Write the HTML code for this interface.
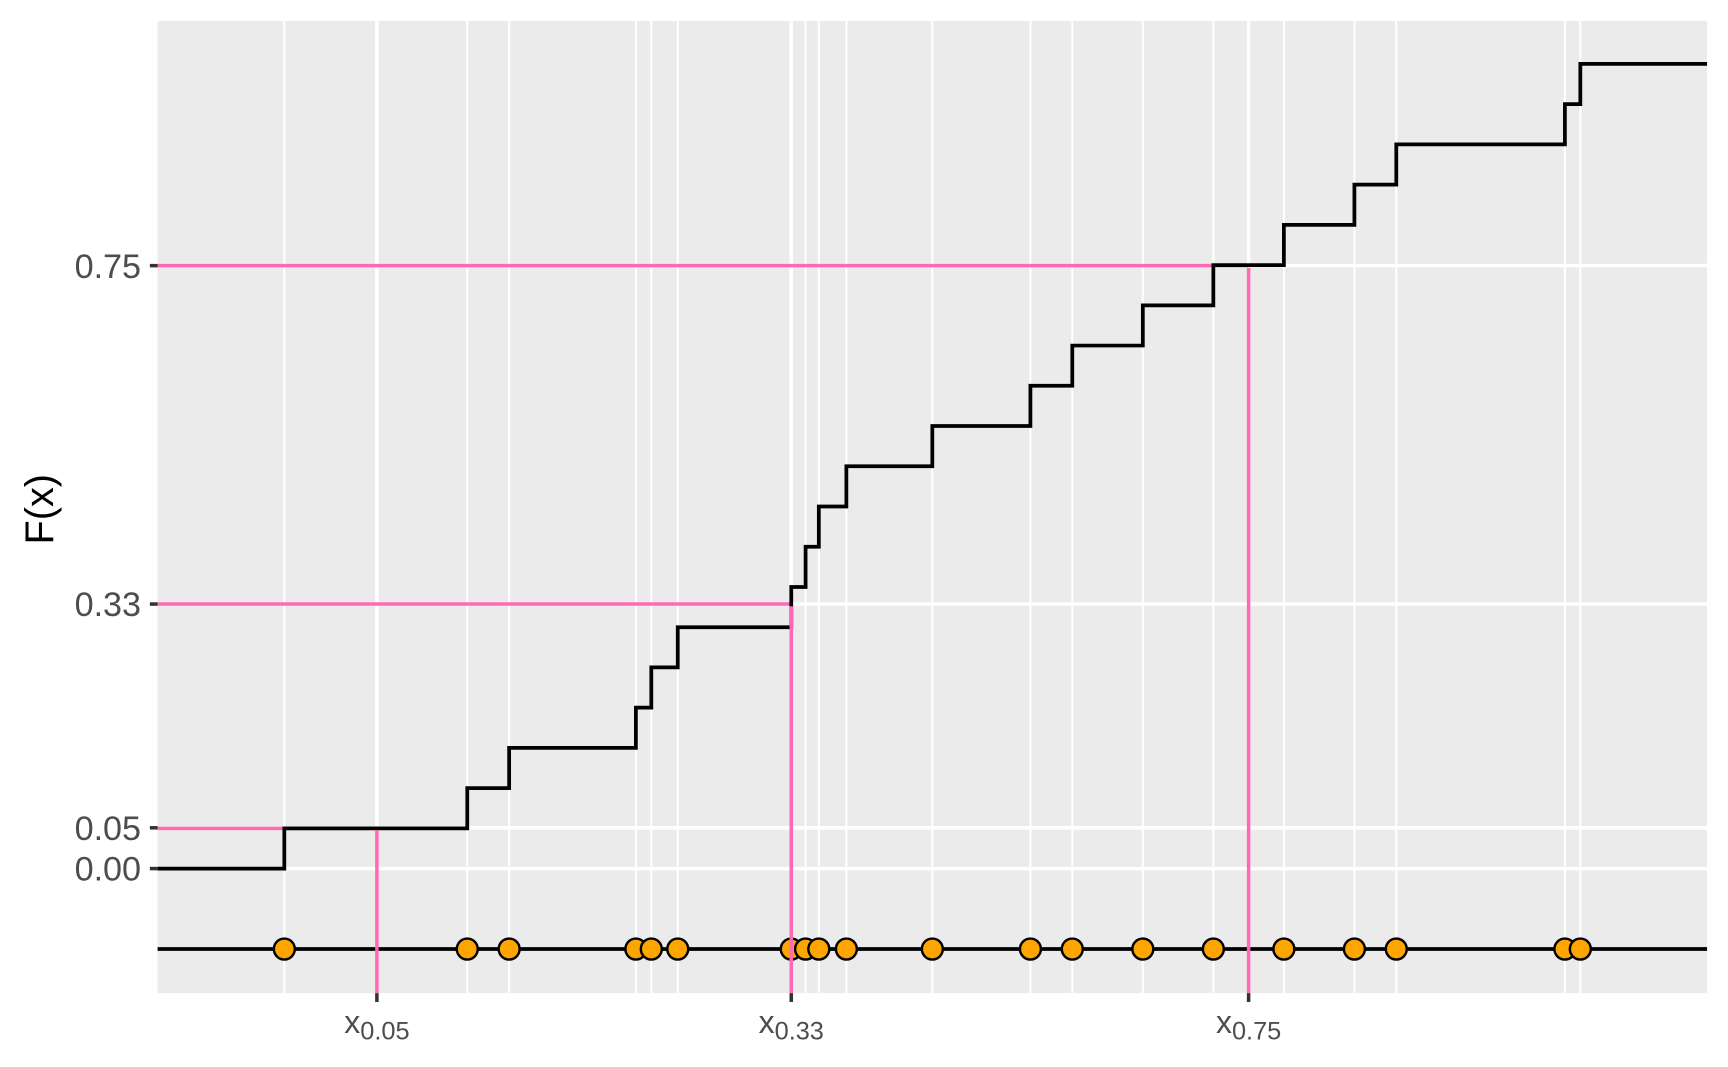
<!DOCTYPE html>
<html><head><meta charset="utf-8"><style>html,body{margin:0;padding:0;background:#fff;}svg{display:block}</style></head>
<body>
<svg width="1728" height="1067" viewBox="0 0 1568 968" preserveAspectRatio="none" xmlns="http://www.w3.org/2000/svg" font-family="Liberation Sans, sans-serif">
<rect x="0" y="0" width="1568" height="968" fill="#fff"/>
<rect x="143" y="19" width="1406" height="882" fill="#ebebeb"/>
<g stroke="#fff" stroke-width="1.8">
<line x1="258" y1="19" x2="258" y2="901"/><line x1="424" y1="19" x2="424" y2="901"/><line x1="462" y1="19" x2="462" y2="901"/>
<line x1="577" y1="19" x2="577" y2="901"/><line x1="591" y1="19" x2="591" y2="901"/><line x1="615" y1="19" x2="615" y2="901"/>
<line x1="718" y1="19" x2="718" y2="901"/><line x1="731" y1="19" x2="731" y2="901"/><line x1="743" y1="19" x2="743" y2="901"/>
<line x1="768" y1="19" x2="768" y2="901"/><line x1="846" y1="19" x2="846" y2="901"/><line x1="935" y1="19" x2="935" y2="901"/>
<line x1="973" y1="19" x2="973" y2="901"/><line x1="1037" y1="19" x2="1037" y2="901"/><line x1="1101" y1="19" x2="1101" y2="901"/>
<line x1="1165" y1="19" x2="1165" y2="901"/><line x1="1229" y1="19" x2="1229" y2="901"/><line x1="1267" y1="19" x2="1267" y2="901"/>
<line x1="1420" y1="19" x2="1420" y2="901"/><line x1="1434" y1="19" x2="1434" y2="901"/>
</g>
<g stroke="#fff" stroke-width="3.2">
<line x1="342" y1="19" x2="342" y2="901"/><line x1="718" y1="19" x2="718" y2="901"/><line x1="1133" y1="19" x2="1133" y2="901"/>
<line x1="143" y1="241" x2="1549" y2="241"/><line x1="143" y1="548" x2="1549" y2="548"/><line x1="143" y1="751" x2="1549" y2="751"/><line x1="143" y1="788" x2="1549" y2="788"/>
</g>
<g stroke="#ff69b4" stroke-width="3.2">
<line x1="143" y1="751.5" x2="342" y2="751.5"/>
<line x1="143" y1="548" x2="718" y2="548"/>
<line x1="143" y1="241" x2="1133" y2="241"/>
</g>
<path d="M143,788 H258 V751.5 H424 V715 H462 V678.5 H577 V642 H591 V605.5 H615 V569 H718 V532.5 H731 V496 H743 V459.5 H768 V423 H846 V386.5 H935 V350 H973 V313.5 H1037 V277 H1101 V240.5 H1165 V204 H1229 V167.5 H1267 V131 H1420 V94.5 H1434 V58 H1549" fill="none" stroke="#000" stroke-width="3.4"/>
<line x1="143" y1="861" x2="1549" y2="861" stroke="#000" stroke-width="3.4"/>
<g fill="#ffa500" stroke="#000" stroke-width="2.2">
<circle cx="258" cy="861" r="9.5"/><circle cx="424" cy="861" r="9.5"/><circle cx="462" cy="861" r="9.5"/>
<circle cx="577" cy="861" r="9.5"/><circle cx="591" cy="861" r="9.5"/><circle cx="615" cy="861" r="9.5"/>
<circle cx="718" cy="861" r="9.5"/><circle cx="731" cy="861" r="9.5"/><circle cx="743" cy="861" r="9.5"/>
<circle cx="768" cy="861" r="9.5"/><circle cx="846" cy="861" r="9.5"/><circle cx="935" cy="861" r="9.5"/>
<circle cx="973" cy="861" r="9.5"/><circle cx="1037" cy="861" r="9.5"/><circle cx="1101" cy="861" r="9.5"/>
<circle cx="1165" cy="861" r="9.5"/><circle cx="1229" cy="861" r="9.5"/><circle cx="1267" cy="861" r="9.5"/>
<circle cx="1420" cy="861" r="9.5"/><circle cx="1434" cy="861" r="9.5"/>
</g>
<g stroke="#ff69b4" stroke-width="3.2">
<line x1="342" y1="753" x2="342" y2="901"/>
<line x1="718" y1="550" x2="718" y2="901"/>
<line x1="1133" y1="243" x2="1133" y2="901"/>
</g>
<g stroke="#333" stroke-width="3.2">
<line x1="136" y1="241" x2="143" y2="241"/><line x1="136" y1="548" x2="143" y2="548"/>
<line x1="136" y1="751" x2="143" y2="751"/><line x1="136" y1="788" x2="143" y2="788"/>
<line x1="342" y1="901" x2="342" y2="909"/><line x1="718" y1="901" x2="718" y2="909"/><line x1="1133" y1="901" x2="1133" y2="909"/>
</g>
<g fill="#4d4d4d" font-size="31" text-anchor="end">
<text x="128" y="252">0.75</text><text x="128" y="559">0.33</text>
<text x="128" y="762">0.05</text><text x="128" y="799">0.00</text>
</g>
<g fill="#4d4d4d" text-anchor="middle">
<text x="342" y="937" font-size="29">x<tspan font-size="23" dy="6">0.05</tspan></text>
<text x="718" y="937" font-size="29">x<tspan font-size="23" dy="6">0.33</tspan></text>
<text x="1133" y="937" font-size="29">x<tspan font-size="23" dy="6">0.75</tspan></text>
</g>
<text x="0" y="0" transform="translate(48,462) rotate(-90)" text-anchor="middle" font-size="36" fill="#000">F(x)</text>
</svg>
</body></html>
